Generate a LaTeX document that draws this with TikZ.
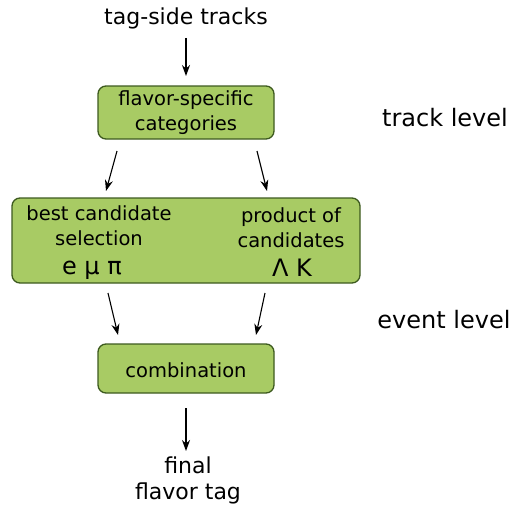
\documentclass[tikz,border=0pt]{standalone}
\usepackage{fontspec}
\setmainfont{DejaVu Sans}
\usetikzlibrary{arrows.meta}
\definecolor{boxfill}{HTML}{A8CB64}
\definecolor{boxdraw}{HTML}{3D5A1F}
\begin{document}
\begin{tikzpicture}[x=1pt,y=-1pt,
  greenbox/.style={draw=boxdraw,fill=boxfill,line width=1.3pt,rounded corners=8pt},
  txt/.style={inner sep=0pt,align=center,font=\fontsize{19.5}{25}\selectfont},
  big/.style={inner sep=0pt,font=\fontsize{24}{28}\selectfont},
  arr/.style={-{Stealth[length=11pt,width=8pt]},line width=1.1pt}]
\useasboundingbox (0,0) rectangle (514,511);
\node[txt,font=\fontsize{22}{26}\selectfont] (src) at (186,18) {tag-side tracks};
\node[greenbox,minimum width=176pt,minimum height=53pt] (b1) at (186,112.5) {};
\node[txt] (t1) at (186,112.5) {flavor-specific\\categories};
\node[greenbox,minimum width=348pt,minimum height=85pt] (b2) at (186,240.5) {};
\node[txt] (t2a) at (99,225.5) {best candidate\\selection};
\node[big,anchor=base] (g2a) at (92,274) {e μ π};
\node[txt] (t2b) at (291,227.5) {product of\\candidates};
\node[big,anchor=base] (g2b) at (292,276) {Λ K};
\node[greenbox,minimum width=176pt,minimum height=49pt] (b3) at (186,368.5) {};
\node[txt] (t3) at (186,370) {combination};
\node[txt,font=\fontsize{22}{26}\selectfont] (out) at (188,480.5) {final\\flavor tag};
\node[big] (lt) at (445,118) {track level};
\node[big] (le) at (444,320) {event level};
\coordinate (a0) at (186,38);
\coordinate (a0e) at (186,76);
\coordinate (l1s) at (117,151);
\coordinate (l1e) at (106,191);
\coordinate (r1s) at (257,151);
\coordinate (r1e) at (267,191);
\coordinate (l2s) at (108,293);
\coordinate (l2e) at (118,335);
\coordinate (r2s) at (265,293);
\coordinate (r2e) at (256,335);
\coordinate (a3) at (186,408);
\coordinate (a3e) at (186,451);
\draw[arr] (a0) -- (a0e);
\draw[arr] (l1s) -- (l1e);
\draw[arr] (r1s) -- (r1e);
\draw[arr] (l2s) -- (l2e);
\draw[arr] (r2s) -- (r2e);
\draw[arr] (a3) -- (a3e);
\end{tikzpicture}
\end{document}
